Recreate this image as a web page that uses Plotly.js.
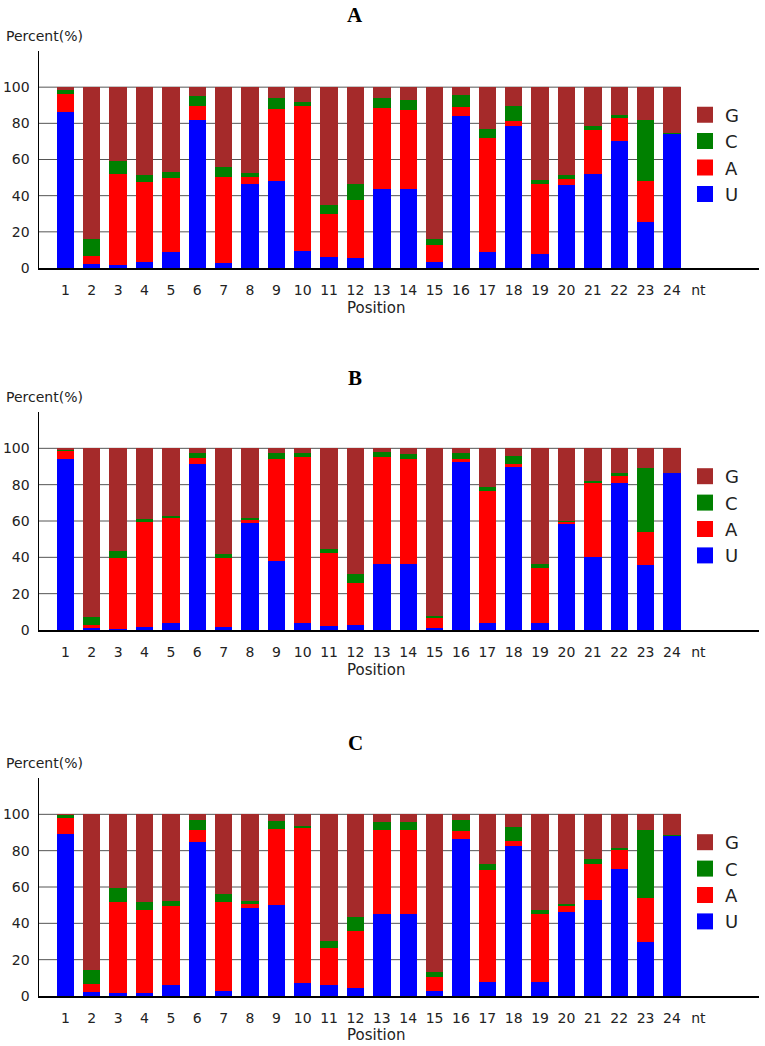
<!DOCTYPE html>
<html>
<head>
<meta charset="utf-8">
<script src="https://cdn.plot.ly/plotly-3.0.1.min.js"></script>
<style>
  body { margin: 0; background: #fff; }
  #graph { width: 765px; height: 1046px; }
</style>
</head>
<body>
<div id="graph"></div>
<script>
// nucleotide composition per position, three panels (A, B, C)
var positions = [1, 2, 3, 4, 5, 6, 7, 8, 9, 10, 11, 12, 13, 14, 15, 16, 17, 18, 19, 20, 21, 22, 23, 24];
var tickVals = [1, 2, 3, 4, 5, 6, 7, 8, 9, 10, 11, 12, 13, 14, 15, 16, 17, 18, 19, 20, 21, 22, 23, 24, 25];
var tickText = ['1', '2', '3', '4', '5', '6', '7', '8', '9', '10', '11', '12', '13', '14', '15', '16', '17', '18', '19', '20', '21', '22', '23', '24', 'nt'];
var yTicks = [0, 20, 40, 60, 80, 100];
var gridVals = [20, 40, 60, 80, 100];
var bases = ['U', 'A', 'C', 'G'];
var baseColors = ['#0000ff', '#ff0000', '#008000', '#a52a2a'];
var panelNames = ['A', 'B', 'C'];

// panel A
var uA = [86, 2.4, 1.7, 3.1, 8.8, 82, 2.8, 46.4, 48.3, 9.2, 5.9, 5.3, 43.9, 43.9, 3.1, 84, 8.6, 78.3, 7.9, 45.7, 51.9, 70.5, 25.3, 73.9];
var aA = [10, 4, 50.2, 44.2, 41.1, 7.4, 47.3, 3.7, 39.8, 80.2, 23.8, 32.3, 44.6, 43.3, 9.4, 5, 63.5, 3, 38.3, 3.3, 24.2, 12.6, 23, 0.4];
var cA = [2.5, 9.9, 7.2, 4.4, 3.3, 5.5, 5.5, 2.2, 6, 2.5, 5.3, 8.8, 5.6, 5.8, 3.8, 6.4, 5, 8.1, 2.4, 2.7, 2.4, 1.7, 33.4, 0.3];
var gA = [1.5, 83.7, 40.9, 48.3, 46.8, 5.1, 44.4, 47.7, 5.9, 8.1, 65, 53.6, 5.9, 7, 83.7, 4.6, 22.9, 10.6, 51.4, 48.3, 21.5, 15.2, 18.3, 25.4];

// panel B
var uB = [93.9, 0.9, 0.7, 1.8, 3.7, 91.4, 1.8, 58.7, 38.2, 4, 2.2, 2.6, 36.3, 36.3, 1.3, 92.7, 4, 89.9, 3.7, 58.3, 40, 80.7, 35.8, 86.2];
var aB = [4.8, 1.9, 39.1, 57.5, 57.8, 3.1, 38, 1.9, 55.9, 91.4, 40.4, 23.5, 58.7, 57.8, 5.1, 1.6, 72.7, 1.5, 30.6, 1, 40.7, 4.1, 18, 0.2];
var cB = [0.4, 4.2, 3.9, 1.8, 1.4, 3.1, 2, 1.2, 3.3, 1.8, 2.2, 4.5, 2.8, 2.6, 1.5, 3.1, 2.2, 4.4, 1.8, 0.9, 1.1, 1.4, 35.6, 0.2];
var gB = [0.9, 93, 56.3, 38.9, 37.1, 2.4, 58.2, 38.2, 2.6, 2.8, 55.2, 69.4, 2.2, 3.3, 92.1, 2.6, 21.1, 4.2, 63.9, 39.8, 18.2, 13.8, 10.6, 13.4];

// panel C
var uC = [89.4, 2.4, 1.5, 1.8, 5.9, 84.8, 2.9, 48.2, 50, 7.3, 5.9, 4.2, 45.4, 45.4, 2.9, 86.6, 7.9, 82.6, 7.9, 46.3, 53.1, 70.1, 29.5, 88.1];
var aC = [8.8, 4.2, 50.3, 45.8, 43.7, 6.4, 48.6, 2.7, 41.8, 85, 20.7, 31.5, 45.8, 45.8, 7.4, 4.1, 61.7, 2.6, 37.5, 3.2, 19.8, 10.5, 24.2, 0.2];
var cC = [1.4, 7.7, 7.4, 4.2, 2.6, 5.9, 4.5, 1.5, 4.5, 1.5, 3.6, 7.9, 4.6, 4.6, 2.7, 6, 2.9, 7.8, 2.2, 1.4, 2.4, 0.9, 37.5, 0.2];
var gC = [0.4, 85.7, 40.8, 48.2, 47.8, 2.9, 44, 47.6, 3.7, 6.2, 69.8, 56.4, 4.2, 4.2, 87, 3.3, 27.5, 7, 52.4, 49.1, 24.7, 18.5, 8.8, 11.5];

var panelData = [[uA, aA, cA, gA], [uB, aB, cB, gB], [uC, aC, cC, gC]];

// pixel layout of each panel (page is 765 x 1046)
var H = 1046, W = 765;
var yDomains = [[1 - 268 / H, 1 - 51 / H], [1 - 630 / H, 1 - 412 / H], [1 - 996 / H, 1 - 778 / H]];
var titleY = [15, 378, 743];
var percentY = [36, 397, 763];
var positionY = [308, 670, 1035];
var legendY = [154.5, 516, 882];

var data = [];
var shapes = [];
var annotations = [];
var layout = {
  width: W,
  height: H,
  margin: { l: 0, r: 0, t: 0, b: 0 },
  paper_bgcolor: '#ffffff',
  plot_bgcolor: '#ffffff',
  barmode: 'stack',
  bargap: 0.34,
  font: { family: 'DejaVu Sans', size: 14, color: '#222' }
};

for (var p = 0; p < 3; p++) {
  var sfx = p === 0 ? '' : String(p + 1);
  var xa = 'x' + sfx, ya = 'y' + sfx;
  var leg = 'legend' + sfx;

  for (var b = 0; b < 4; b++) {
    data.push({
      type: 'bar',
      x: positions,
      y: panelData[p][b],
      xaxis: xa,
      yaxis: ya,
      name: bases[b],
      marker: { color: baseColors[b], line: { width: 0 } },
      showlegend: false,
      hoverinfo: 'x+y+name'
    });
    // legend-only entry, so the swatch can be bigger than the bar default
    data.push({
      type: 'scatter',
      mode: 'markers',
      x: [null],
      y: [null],
      xaxis: xa,
      yaxis: ya,
      name: bases[b],
      legend: leg,
      legendgroup: leg + bases[b],
      marker: { symbol: 'square', size: 17, color: baseColors[b] },
      showlegend: true
    });
  }

  layout['xaxis' + sfx] = {
    domain: [39 / W, 759 / W],
    range: [0, 27.3],
    anchor: ya,
    tickmode: 'array',
    tickvals: tickVals,
    ticktext: tickText,
    showline: true,
    linecolor: '#000',
    linewidth: 1.5,
    showgrid: false,
    zeroline: false,
    ticks: 'outside',
    ticklen: 9,
    tickcolor: 'rgba(0,0,0,0)',
    tickfont: { size: 14, color: '#222' },
    fixedrange: true
  };
  layout['yaxis' + sfx] = {
    domain: yDomains[p],
    range: [0, 120],
    anchor: xa,
    tickmode: 'array',
    tickvals: yTicks,
    showline: true,
    linecolor: '#000',
    linewidth: 1.5,
    showgrid: false,
    zeroline: false,
    ticks: 'outside',
    ticklen: 5,
    tickcolor: 'rgba(0,0,0,0)',
    tickfont: { size: 14, color: '#222' },
    fixedrange: true
  };
  layout[leg] = {
    x: 685 / W,
    xanchor: 'left',
    y: 1 - legendY[p] / H,
    yanchor: 'middle',
    traceorder: 'reversed',
    tracegroupgap: 4,
    bgcolor: 'rgba(0,0,0,0)',
    font: { size: 18, color: '#222' }
  };

  // gridlines stop at the last bar
  for (var g = 0; g < gridVals.length; g++) {
    shapes.push({
      type: 'line', xref: xa, yref: ya,
      x0: 0, x1: 24.33, y0: gridVals[g], y1: gridVals[g],
      line: { color: '#555', width: 1 },
      layer: 'below'
    });
  }

  annotations.push({
    text: '<b>' + panelNames[p] + '</b>',
    xref: 'paper', yref: 'paper',
    x: 355 / W, y: 1 - titleY[p] / H,
    xanchor: 'center', yanchor: 'middle',
    showarrow: false,
    font: { family: 'Liberation Serif', size: 21, color: '#000' }
  });
  annotations.push({
    text: 'Percent(%)',
    xref: 'paper', yref: 'paper',
    x: 4 / W, y: 1 - percentY[p] / H,
    xanchor: 'left', yanchor: 'middle',
    showarrow: false,
    font: { size: 14, color: '#222' }
  });
  annotations.push({
    text: 'Position',
    xref: 'paper', yref: 'paper',
    x: 376 / W, y: 1 - positionY[p] / H,
    xanchor: 'center', yanchor: 'middle',
    showarrow: false,
    font: { size: 15, color: '#222' }
  });
}

layout.shapes = shapes;
layout.annotations = annotations;

Plotly.newPlot('graph', data, layout, { staticPlot: true });
</script>
</body>
</html>
